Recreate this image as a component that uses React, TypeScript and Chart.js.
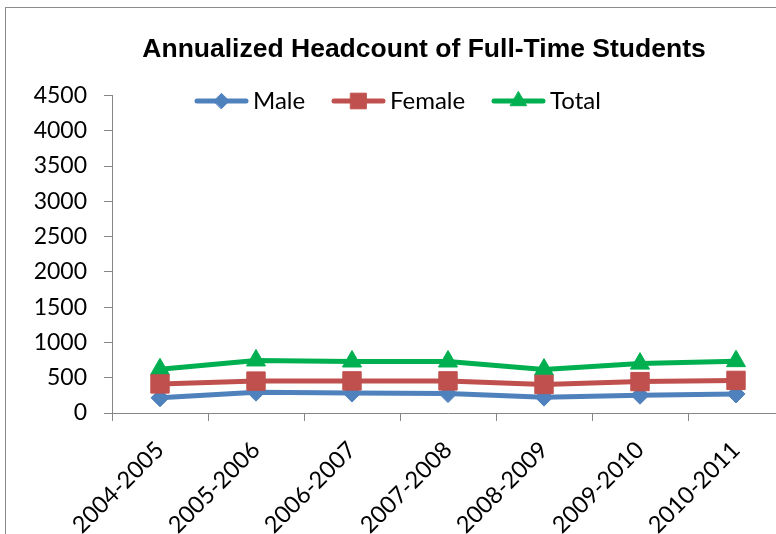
import React, { useEffect, useRef } from 'react';
import { Chart, registerables } from 'chart.js';
import { drawPoint } from 'chart.js/helpers';

Chart.register(...registerables);

const categories = ['2004-2005', '2005-2006', '2006-2007', '2007-2008', '2008-2009', '2009-2010', '2010-2011'];
const maleValues = [215, 295, 282, 275, 225, 252, 270];
const femaleValues = [412, 452, 455, 455, 405, 445, 462];
const totalValues = [620, 745, 730, 730, 615, 700, 735];
const seriesNames = ['Male', 'Female', 'Total'];
const yMin = 0;
const yMax = 4500;
const yStep = 500;
const titleText = 'Annualized Headcount of Full-Time Students';

const COLORS = ['#4F81BD', '#C0504D', '#00B050'];
const STYLES = ['rectRot', 'rect', 'triangle'];
const RADII = [9, 13, 11];
const LEGEND_X = [195, 332, 492];
const LEGEND_Y = 101;
const FONT = 'Lato, "Noto Sans", sans-serif';

const overlayPlugin = {
  id: 'overlay',
  afterDraw(chart: any) {
    const ctx = chart.ctx;
    ctx.save();
    ctx.fillStyle = '#000';
    ctx.font = 'bold 26.5px "Liberation Sans", Arial, sans-serif';
    ctx.textAlign = 'center';
    ctx.textBaseline = 'middle';
    ctx.fillText(titleText, 424, 50);

    seriesNames.forEach((name, i) => {
      const x0 = LEGEND_X[i];
      ctx.strokeStyle = COLORS[i];
      ctx.lineWidth = 5;
      ctx.lineCap = 'round';
      ctx.beginPath();
      ctx.moveTo(x0 + 2, LEGEND_Y);
      ctx.lineTo(x0 + 51, LEGEND_Y);
      ctx.stroke();
      ctx.fillStyle = COLORS[i];
      ctx.lineWidth = 1;
      drawPoint(ctx, { pointStyle: STYLES[i], radius: RADII[i] * 0.85, rotation: 0, borderWidth: 1 }, x0 + 26.5, LEGEND_Y);
      ctx.fillStyle = '#000';
      ctx.font = '24px ' + FONT;
      ctx.textAlign = 'left';
      ctx.textBaseline = 'middle';
      ctx.fillText(name, x0 + 58, LEGEND_Y);
    });
    ctx.restore();
  },
};

export default function App() {
  const canvasRef = useRef<HTMLCanvasElement | null>(null);

  useEffect(() => {
    const canvas = canvasRef.current;
    if (!canvas) return;
    const seriesValues = [maleValues, femaleValues, totalValues];
    const orders = [1, 0, 2];
    const chart = new Chart(canvas, {
      type: 'line',
      data: {
        labels: categories,
        datasets: seriesNames.map((name, i) => ({
          label: name,
          data: seriesValues[i],
          borderColor: COLORS[i],
          backgroundColor: COLORS[i],
          borderWidth: 5,
          tension: 0,
          pointStyle: STYLES[i],
          pointRadius: RADII[i],
          pointHoverRadius: RADII[i],
          pointBackgroundColor: COLORS[i],
          pointBorderColor: COLORS[i],
          pointBorderWidth: 1,
          order: orders[i],
          clip: false as any,
        })),
      },
      options: {
        animation: false,
        responsive: false,
        events: [],
        layout: { padding: { left: 0, right: 64, top: 95.5, bottom: 0 } },
        plugins: {
          legend: { display: false },
          title: { display: false },
          tooltip: { enabled: false },
        },
        scales: {
          x: {
            type: 'category',
            offset: true,
            grid: { offset: true, drawOnChartArea: false, drawTicks: true, tickLength: 8, color: '#868686' },
            border: { color: '#868686', width: 1 },
            ticks: {
              color: '#000',
              font: { family: FONT, size: 23.5 },
              minRotation: 45,
              maxRotation: 45,
              padding: 15,
              autoSkip: false,
            },
            afterFit(scale: any) {
              scale.height = 121;
            },
          },
          y: {
            min: yMin,
            max: yMax,
            grid: { drawOnChartArea: false, drawTicks: true, tickLength: 8, color: '#868686' },
            border: { color: '#868686', width: 1 },
            ticks: {
              stepSize: yStep,
              color: '#000',
              font: { family: FONT, size: 23 },
              padding: 17,
              callback: (v: any) => String(v),
            },
            afterFit(scale: any) {
              scale.width = 112;
            },
          },
        },
      },
      plugins: [overlayPlugin],
    });
    return () => chart.destroy();
  }, []);

  return (
    <div style={{ position: 'fixed', left: 0, top: 0, width: 776, height: 534, overflow: 'hidden', background: '#fff' }}>
      <div
        style={{
          position: 'absolute',
          left: 5,
          top: 7,
          width: 1000,
          height: 1000,
          border: '1px solid #8c8c8c',
          boxSizing: 'border-box',
        }}
      />
      <canvas
        ref={canvasRef}
        width={848}
        height={534}
        style={{ position: 'absolute', left: 0, top: 0, width: 848, height: 534 }}
      />
    </div>
  );
}
